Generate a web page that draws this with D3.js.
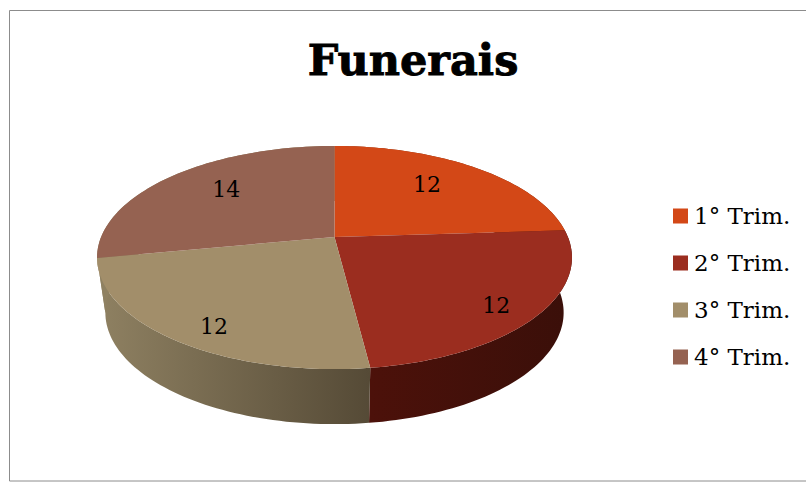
<!DOCTYPE html>
<html>
<head>
	<title>Funerais</title>
	<meta charset="utf-8">
	<script type="text/javascript" src="https://cdn.jsdelivr.net/npm/d3@7"></script>
	<style>
		html, body { margin: 0; padding: 0; background: #fff; overflow: hidden; }
		svg { display: block; }
		text { font-family: "DejaVu Serif", serif; fill: #000; }
	</style>
</head>
<body>
	<svg id="chart" width="806" height="482"></svg>
	<script type="text/javascript">
		const categories = ["1° Trim.", "2° Trim.", "3° Trim.", "4° Trim."];
		const values = [12, 12, 12, 14];
		const colors = ["#D34817", "#9B2D1F", "#A28E6A", "#956251"];
		const sideLeft = ["#8a3212", "#4c110a", "#8f8162", "#8f8162"];
		const sideRight = ["#6a2409", "#3a0f09", "#554a36", "#8f8162"];

		const svg = d3.select("#chart");

		// frame, open on the right where the picture is cut off
		svg.append("path")
			.attr("d", "M806,10.5H9.5V481H806")
			.attr("fill", "none")
			.attr("stroke", "#8c8c8c")
			.attr("stroke-width", 1);

		svg.append("text")
			.attr("x", 413)
			.attr("y", 75)
			.attr("text-anchor", "middle")
			.attr("stroke", "#000")
			.attr("stroke-width", 0.9)
			.style("font-weight", "bold")
			.style("font-size", "43px")
			.text("Funerais");

		// perspective projection of the unit disc (a = angle clockwise from top)
		const cx = 334.5, cy = 237, radiusX = 233.4;
		const tilt = -0.184, stretch = 64.2, depth = 55, bottomScale = 0.965;

		function project(a, r) {
			const u = Math.sin(a) * r, v = -Math.cos(a) * r;
			const den = 1 + tilt * v;
			return [cx + radiusX * u / den, (stretch * v + cy) / den];
		}
		function projectBottom(a) {
			const p = project(a, 1);
			return [cx + (p[0] - cx) * bottomScale, p[1] + depth];
		}

		const pie = d3.pie().sort(null)(values);
		const line = d3.line();
		const rim = d => d3.range(0, 61).map(i => d.startAngle + (d.endAngle - d.startAngle) * i / 60);

		const defs = svg.append("defs");
		const grads = defs.selectAll("linearGradient")
			.data(pie)
			.enter()
			.append("linearGradient")
			.attr("id", (d, i) => "side" + i)
			.attr("gradientUnits", "userSpaceOnUse")
			.attr("x1", d => d3.min(rim(d), a => project(a, 1)[0]))
			.attr("x2", d => d3.max(rim(d), a => project(a, 1)[0]))
			.attr("y1", 0)
			.attr("y2", 0);
		grads.append("stop").attr("offset", "0").attr("stop-color", (d, i) => sideLeft[i]);
		grads.append("stop").attr("offset", "1").attr("stop-color", (d, i) => sideRight[i]);

		// side walls first, the top covers whatever faces away
		// one quad per rim step so the silhouette follows the swept wall
		svg.append("g")
			.selectAll("path")
			.data(pie)
			.enter()
			.append("path")
			.attr("fill", (d, i) => "url(#side" + i + ")")
			.attr("d", d => d3.pairs(rim(d)).map(([a, b]) =>
				line([project(a, 1), project(b, 1), projectBottom(b), projectBottom(a)]) + "Z"
			).join(""));

		svg.append("g")
			.selectAll("path")
			.data(pie)
			.enter()
			.append("path")
			.attr("fill", (d, i) => colors[i])
			.attr("d", d => line([[cx, cy]].concat(rim(d).map(a => project(a, 1)))) + "Z");

		// label radius and nudge per slice
		const labelPlace = [[0.62, 1, -8], [0.8, 3, 8], [0.8, 4, 10], [0.7, 8, -3]];
		svg.append("g")
			.selectAll("text")
			.data(pie)
			.enter()
			.append("text")
			.attr("text-anchor", "middle")
			.attr("dominant-baseline", "central")
			.style("font-size", "22px")
			.attr("x", (d, i) => project((d.startAngle + d.endAngle) / 2, labelPlace[i][0])[0] + labelPlace[i][1])
			.attr("y", (d, i) => project((d.startAngle + d.endAngle) / 2, labelPlace[i][0])[1] + labelPlace[i][2])
			.text(d => d.value);

		// legend
		const legendY = d3.scalePoint().domain(categories).range([216, 357]);
		const legend = svg.append("g")
			.selectAll("g")
			.data(categories)
			.enter()
			.append("g")
			.attr("transform", d => "translate(673," + legendY(d) + ")");
		legend.append("rect")
			.attr("y", -7.5)
			.attr("width", 15)
			.attr("height", 15)
			.attr("fill", (d, i) => colors[i]);
		legend.append("text")
			.attr("x", 21)
			.attr("dominant-baseline", "central")
			.style("font-size", "23px")
			.text(d => d);
	</script>
</body>
</html>
